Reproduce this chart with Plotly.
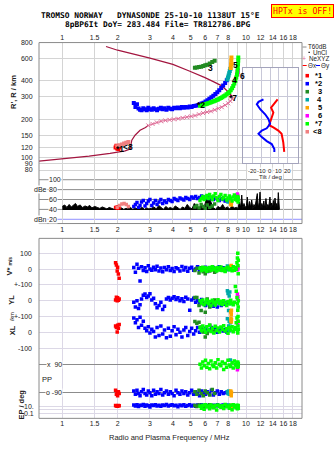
import numpy as np
import plotly.graph_objects as go

# ---------------------------------------------------------------- data
# Frequency ticks (MHz)
freq_ticks = [1, 1.5, 2, 3, 4, 5, 6, 7, 8, 9, 10, 12, 14, 16, 18]
freq_text_outer = ['1', '1.5', '2', '3', '4', '5', '6', '7', '8', '', '10', '12', '14', '16', '18']
freq_text_mid = ['1', '1.5', '2', '3', '4', '5', '6', '7', '8', '9', '10', '12', '14', '16', '18']
height_ticks = [80, 90, 100, 120, 150, 200, 300, 400, 600, 800]

# Electron density profile: plasma frequency (MHz) vs true height (km)
prof_low_f = [0.72, 1.00, 1.40, 1.82, 2.00, 2.20, 2.34, 2.36, 2.39, 2.49, 2.65, 2.82, 2.94]
prof_low_h = [93.5, 97.7, 103, 108, 110, 113, 117, 126, 137, 150, 164, 172, 179]
ne_f = [2.94, 3.10, 3.27, 3.45, 3.64, 3.84, 4.05, 4.28, 4.52, 4.77, 5.03, 5.28,
        5.55, 5.84, 6.14, 6.45, 6.76, 7.07, 7.38, 7.70, 8.00, 8.22, 8.43]
ne_h = [179, 184, 189, 193, 196, 198, 200, 202, 205, 208, 211, 214,
        219, 224, 228, 231, 237, 243, 249, 258, 267, 278, 289]
prof_top_f = [8.43, 8.36, 7.88, 7.38, 6.64, 5.98, 4.91, 4.00, 3.00, 2.00, 1.73]
prof_top_h = [289, 306, 335, 366, 395, 425, 479, 540, 604, 697, 745]

# Echo class 1 (red)
f1 = [1.95, 1.97, 1.99, 2.00, 2.02, 2.04]
h1 = [120, 124, 118, 122, 117, 121]
amp1 = [44, 43, 45, 42, 44, 43]
v1 = [40, 25, -12, 12, -31, -58]
yl1 = [5, 22, 0, 18, 3, 10]
xl1 = [40, 30, 2, 44, 25, 50]
pp1 = [-75, -100, -90, -110, -85, -95]
ep1 = [15, 12, 14, 10, 16, 13]

# Echo class 2 (blue)
f2 = [2.45, 2.50, 2.55, 2.60, 2.65, 2.70, 2.76, 2.82, 2.88, 2.94,
      3.00, 3.07, 3.14, 3.21, 3.28, 3.36, 3.44, 3.52, 3.60, 3.69,
      3.78, 3.87, 3.96, 4.06, 4.16, 4.26, 4.37, 4.48, 4.59, 4.70,
      4.82, 4.94, 5.06, 5.19, 5.32, 5.45, 5.59, 5.73, 5.87, 6.02,
      6.17, 6.32, 6.48, 6.64, 6.81, 6.98, 7.15, 7.33, 7.51, 7.70,
      7.86]
h2 = [268, 250, 262, 243, 238, 236, 244, 240, 236, 246,
      240, 238, 244, 240, 236, 242, 246, 240, 244, 238,
      246, 242, 240, 246, 244, 248, 244, 250, 246, 250,
      248, 252, 250, 254, 256, 258, 262, 266, 270, 276,
      282, 290, 298, 306, 316, 326, 338, 352, 368, 386,
      405]
amp2 = [46, 50, 54, 44, 48, 55, 58, 47, 52, 57,
        60, 48, 53, 58, 50, 55, 60, 52, 57, 54,
        60, 58, 56, 62, 60, 58, 63, 61, 59, 64,
        62, 60, 65, 63, 66, 62, 64, 67, 65, 63,
        66, 62, 64, 60, 63, 61, 58, 62, 60, 57,
        59]
v2 = [10, -20, 30, 5, -75, 15, -10, 8, -15, 20,
      0, -8, 12, -5, 18, -12, 6, -18, 10, -4,
      14, -10, 4, -16, 8, 2, -12, 16, -6, 10,
      -14, 5, 12, -8, 0, 15, -10, 8, -5, 12,
      -15, 6, -2, 10, -12, 4, 14, -6, 8, -10,
      2]
yl2 = [-10, -40, 0, -50, -25, 10, 35, 42, 20, 30,
       44, 5, 15, -20, -45, -30, -10, -55, -35, 10,
       20, 5, 15, 25, 8, 18, 0, 12, -5, 22,
       10, -60, 5, 15, -10, 0, -20, 8, -15, -30,
       -5, -25, -10, -35, -20, -40, -15, -30, -8, -22,
       -12]
xl2 = [90, 60, 80, 30, 95, 45, 70, 25, 10, 35,
       -5, 20, 5, -30, 30, -20, 40, -10, 15, -35,
       25, -25, 10, 35, -15, 20, 0, -30, 15, 30,
       -20, 5, 25, -10, 10, 30, 0, 20, 5, 25,
       10, 15, 30, 5, 20, 0, 12, 25, 8, 18,
       2]
pp2 = [-80, -100, -75, -95, -110, -85, -70, -95, -105, -80,
       -90, -110, -75, -100, -85, -95, -70, -105, -90, -80,
       -100, -85, -95, -110, -75, -90, -100, -80, -95, -85,
       -105, -90, -75, -100, -85, -95, -110, -80, -90, -100,
       -85, -95, -75, -105, -90, -80, -100, -85, -95, -90,
       -88]
ep2 = [20, 12, 25, 8, 18, 15, 30, 10, 22, 14,
       6, 20, 16, 25, 12, 18, 9, 22, 15, 28,
       11, 17, 24, 13, 19, 7, 21, 14, 26, 10,
       16, 23, 12, 18, 9, 20, 15, 25, 11, 17,
       13, 22, 8, 19, 14, 24, 10, 16, 21, 12,
       18]

# Echo class 3 (dark green)
f3 = [5.27, 5.40, 5.55, 5.70, 5.85, 6.00, 6.15, 6.35, 6.55, 6.75]
h3 = [508, 510, 514, 518, 524, 530, 536, 548, 562, 575]
amp3 = [45, 48, 43, 50, 46, 42, 49, 44, 47, 51]
v3 = [-10, 5, -25, 8, -18, -30, 2, -12, 6, -20]
yl3 = [20, 20, -31, -62, -21, -73, 10, -40, -15, 5]
xl3 = [69, 58, 64, 33, 2, -29, -8, 45, 20, 10]
pp3 = [-85, -100, -75, -95, -110, -80, -90, -105, -70, -95]
ep3 = [15, 8, 20, 12, 5, 18, 10, 25, 7, 14]

# Echo class 4 (teal)
f4 = [7.92, 7.98, 8.04, 8.10, 8.16, 8.22]
h4 = [410, 425, 442, 460, 478, 496]
amp4 = [60, 55, 62, 58, 64, 57]
v4 = [19, 10, -5, 15, 8, 0]
yl4 = [62, 46, -62, 30, 55, -20]
xl4 = [85, 20, 40, 70, 10, 60]
pp4 = [-85, -95, -80, -100, -90, 122]
ep4 = [12, 8, 20, 15, 10, 6]

# Echo class 5 (orange)
f5 = [8.26, 8.29, 8.31, 8.33]
h5 = [505, 540, 575, 610]
amp5 = [51, 55, 49, 53]
v5 = [18, 10, 22, 5]
yl5 = [-70, -75, -88, -60]
xl5 = [75, 90, 65, 80]
pp5 = [-80, -95, -110, -88]
ep5 = [14, 9, 18, 11]

# Echo class 6 (magenta)
f6 = [8.98, 9.01, 9.03]
h6 = [450, 468, 485]
amp6 = [71, 68, 66]
v6 = [12, -5, 8]
yl6 = [42, 10, 25]
xl6 = [64, 55, 70]
pp6 = [58, 70, 90]
ep6 = [5, 8, 12]

# Echo class 7 (bright green)
f7 = [5.62, 5.72, 5.82, 5.92, 6.02, 6.12, 6.23, 6.34, 6.45, 6.56,
      6.68, 6.80, 6.92, 7.04, 7.17, 7.30, 7.43, 7.56, 7.70, 7.84,
      7.98, 8.12, 8.26, 8.40, 8.52, 8.64, 8.75, 8.85, 8.93, 8.98,
      9.02, 9.05, 9.07, 9.08]
h7 = [255, 258, 260, 262, 263, 265, 267, 270, 272, 275,
      277, 280, 283, 286, 290, 294, 298, 303, 308, 314,
      320, 328, 338, 350, 365, 382, 400, 425, 450, 475,
      505, 540, 575, 610]
amp7 = [58, 62, 66, 60, 64, 68, 62, 70, 65, 60,
        67, 72, 63, 58, 66, 70, 61, 64, 68, 59,
        63, 67, 62, 57, 65, 69, 60, 64, 58, 62,
        66, 55, 60, 63]
v7 = [5, -10, 12, -5, 8, -14, 3, 10, -8, 15,
      -3, 6, -12, 9, -6, 13, -9, 4, -15, 7,
      11, -4, 2, -11, 14, -7, 9, -2, 40, 70,
      100, 20, -30, 55]
yl7 = [0, -15, 5, -25, -10, 4, -20, -5, -30, 2,
       -12, -28, -8, 6, -18, -3, -24, 0, -14, -30,
       -6, -20, 3, -16, -26, -10, 90, 60, 20, -20,
       -60, -100, -40, 0]
xl7 = [30, 10, 40, 20, 0, 35, 15, 44, 5, 25,
       -5, 38, 12, 28, 2, 33, 18, 42, 8, 22,
       -6, 30, 14, 36, 4, 20, 30, 60, 90, 10,
       -5, 40, 70, 20]
pp7 = [95, 70, 110, 85, 120, 75, 100, 65, 115, 90,
       80, 105, 70, 125, 95, 85, 110, 60, 100, 75,
       120, 90, 80, 105, 70, 115, 95, 85, 100, 75,
       110, 90, 80, 100]
ep7 = [10, 3, 18, 1.5, 25, 6, 12, 2, 20, 8,
       4, 15, 1, 22, 9, 5, 14, 2.5, 28, 7,
       11, 3, 17, 1.2, 24, 6, 13, 4, 19, 2,
       10, 5, 16, 3]

# Echo class 8 (light red)
f8 = [1.99, 2.05, 2.11, 2.17, 2.23, 2.29]
h8 = [123, 125, 127, 129, 131, 133]
amp8 = [44, 48, 51, 52, 50, 46]

# Unclassified echo amplitude (dB) vs frequency
amp_f = [1.00, 1.03, 1.06, 1.09, 1.12, 1.15, 1.18, 1.21, 1.25, 1.29,
         1.33, 1.37, 1.41, 1.45, 1.50, 1.55, 1.60, 1.65, 1.70, 1.75,
         1.80, 1.86, 1.92, 1.98, 2.04, 2.10, 2.16, 2.22, 2.28, 2.35,
         2.42, 2.49, 2.56, 2.64, 2.72, 2.80, 2.88, 2.96, 3.05, 3.15,
         3.25, 3.35, 3.45, 3.55, 3.66, 3.77, 3.88, 4.00, 4.12, 4.25,
         4.38, 4.51, 4.65, 4.79, 4.93, 5.08, 5.23, 5.39, 5.55, 5.72,
         5.89, 6.07, 6.25, 6.44, 6.63, 6.83, 7.03, 7.24, 7.46, 7.68,
         7.91, 8.15, 8.39, 8.64, 8.90, 9.05, 9.20, 9.35, 9.48, 9.60,
         9.75, 9.90, 10.05, 10.16, 10.30, 10.45, 10.60, 10.74, 10.90, 11.05,
         11.20, 11.35, 11.52, 11.65, 11.80, 11.92, 12.05, 12.20, 12.35, 12.50,
         12.65, 12.84, 13.00, 13.15, 13.30, 13.50, 13.65, 13.80, 13.95, 14.10,
         14.25, 14.38, 14.55, 14.70, 14.85, 14.99, 15.10, 15.20]
amp_db = [46, 49, 44, 50, 45, 48, 52, 46, 49, 44,
          47, 45, 48, 43, 46, 44, 42, 45, 43, 41,
          44, 42, 40, 43, 41, 43, 40, 42, 41, 44,
          40, 43, 41, 42, 44, 40, 43, 41, 42, 45,
          41, 48, 43, 40, 46, 42, 44, 41, 47, 43,
          40, 45, 42, 50, 44, 41, 52, 46, 43, 49,
          41, 60, 68, 55, 44, 40, 46, 43, 50, 42,
          45, 41, 47, 43, 44, 42, 55, 44, 69, 41,
          52, 43, 48, 65, 42, 56, 44, 59, 41, 50,
          45, 58, 72, 43, 54, 75, 42, 52, 44, 57,
          41, 62, 43, 50, 45, 65, 42, 53, 44, 58,
          42, 63, 45, 52, 41, 74, 44, 40]
AMP_FLOOR = 39

# Inset: echo-location tilts (deg) vs height (km)
tilt_x_h = [287, 262, 247, 226, 207, 189, 180, 173, 163, 154, 132, 111]
tilt_x = [8.5, 3.7, 1.1, 3.7, 1.8, 0.0, -1.1, 3.7, 9.3, 13.0, 14.9, 16.0]
tilt_y_h = [287, 274, 262, 240, 219, 201, 184, 170, 163, 154, 145, 135, 128, 117, 111]
tilt_y = [-7.5, -13.1, -15.0, -11.2, -5.6, -1.9, 0.0, -3.8, -9.4, -13.1, -9.4, -3.8, 1.8, 4.8, 4.8]

# ---------------------------------------------------------------- layout helpers
W, H = 335, 451


def px(x):
    return x / W


def py(y):
    return 1 - y / H


X0, X1 = 39, 302                      # plot frame, pixels
F_RANGE = [-0.1268, 1.3048]           # log10 MHz across the frame
H_TOP = np.log10(800)
H_BOT = H_TOP - (170 - 39) / 128.9

RED, BLUE, DKGREEN, TEAL = '#ff0000', '#0000ff', '#228b22', '#00a8a8'
ORANGE, MAGENTA, GREEN, PINK = '#ffa500', '#ff00ff', '#00ff00', '#f08080'
MAROON, NEPINK = '#a3153f', '#e0709a'
GRID1, GRID3 = '#d4d4d4', '#dcd8e6'
FONT = 'Liberation Sans'

classes = [
    dict(c=RED, f=f1, h=h1, a=amp1, v=v1, yl=yl1, xl=xl1, pp=pp1, ep=ep1),
    dict(c=BLUE, f=f2, h=h2, a=amp2, v=v2, yl=yl2, xl=xl2, pp=pp2, ep=ep2),
    dict(c=DKGREEN, f=f3, h=h3, a=amp3, v=v3, yl=yl3, xl=xl3, pp=pp3, ep=ep3),
    dict(c=TEAL, f=f4, h=h4, a=amp4, v=v4, yl=yl4, xl=xl4, pp=pp4, ep=ep4),
    dict(c=ORANGE, f=f5, h=h5, a=amp5, v=v5, yl=yl5, xl=xl5, pp=pp5, ep=ep5),
    dict(c=MAGENTA, f=f6, h=h6, a=amp6, v=v6, yl=yl6, xl=xl6, pp=pp6, ep=ep6),
    dict(c=GREEN, f=f7, h=h7, a=amp7, v=v7, yl=yl7, xl=xl7, pp=pp7, ep=ep7),
    dict(c=PINK, f=f8, h=h8, a=amp8),
]

fig = go.Figure()


def pts(x, y, xa, ya, color, size=3.0):
    fig.add_trace(go.Scatter(x=x, y=y, xaxis=xa, yaxis=ya, mode='markers',
                             marker=dict(symbol='square', size=size, color=color,
                                         line=dict(width=0)),
                             hoverinfo='skip'))


# ---- virtual / true heights
fig.add_trace(go.Scatter(x=prof_low_f, y=prof_low_h, xaxis='x', yaxis='y', mode='lines',
                         line=dict(color=MAROON, width=1.2), hoverinfo='skip'))
fig.add_trace(go.Scatter(x=prof_top_f, y=prof_top_h, xaxis='x', yaxis='y', mode='lines',
                         line=dict(color=MAROON, width=1.2), hoverinfo='skip'))
fig.add_trace(go.Scatter(x=ne_f, y=ne_h, xaxis='x', yaxis='y', mode='lines+markers',
                         line=dict(color=NEPINK, width=1),
                         marker=dict(symbol='x-thin', size=4, color=NEPINK,
                                     line=dict(width=1, color=NEPINK)),
                         hoverinfo='skip'))
for k in classes:
    pts(k['f'], k['h'], 'x', 'y', k['c'], 4.0)

# ---- amplitudes
fig.add_trace(go.Scatter(x=amp_f, y=[AMP_FLOOR] * len(amp_f), xaxis='x2', yaxis='y2',
                         mode='lines', line=dict(width=0, color='black'), hoverinfo='skip'))
fig.add_trace(go.Scatter(x=amp_f, y=amp_db, xaxis='x2', yaxis='y2', mode='lines',
                         fill='tonexty', fillcolor='black',
                         line=dict(width=1, color='black'), hoverinfo='skip'))
for k in classes:
    pts(k['f'], k['a'], 'x2', 'y2', k['c'], 3.4)

# ---- lower panel: velocity, location, polarization, error
fig.add_trace(go.Scatter(x=[], y=[], xaxis='x3', yaxis='y3', hoverinfo='skip'))
for key, ax in [('v', '4'), ('yl', '5'), ('xl', '6'), ('pp', '7'), ('ep', '8')]:
    for k in classes:
        if key in k:
            pts(k['f'], k[key], 'x' + ax, 'y' + ax, k['c'], 3.5)

# ---- tilt inset
fig.add_trace(go.Scatter(x=tilt_x, y=tilt_x_h, xaxis='x9', yaxis='y9', mode='lines',
                         line=dict(color=RED, width=2), hoverinfo='skip'))
fig.add_trace(go.Scatter(x=tilt_y, y=tilt_y_h, xaxis='x9', yaxis='y9', mode='lines',
                         line=dict(color=BLUE, width=2), hoverinfo='skip'))

# ---------------------------------------------------------------- axes
xdom = [px(X0), px(X1)]
tickfont = dict(family=FONT, size=7, color='#222')
hidden_x = dict(domain=xdom, type='log', range=F_RANGE, visible=False)

layout = dict(
    width=W, height=H, margin=dict(l=0, r=0, t=0, b=0),
    paper_bgcolor='white', plot_bgcolor='rgba(0,0,0,0)', showlegend=False,
    font=dict(family=FONT, size=7, color='#222'),
    xaxis=dict(domain=xdom, type='log', range=F_RANGE, anchor='y', side='top',
               tickvals=freq_ticks, ticktext=freq_text_outer, tickfont=tickfont,
               tickangle=0, showgrid=True, gridcolor=GRID1, zeroline=False, ticks=''),
    yaxis=dict(domain=[py(170), py(39)], type='log', range=[H_BOT, H_TOP], anchor='x',
               tickvals=height_ticks, ticktext=[str(t) for t in height_ticks],
               tickfont=tickfont, showgrid=True, gridcolor=GRID1, zeroline=False,
               ticks='outside', ticklen=4, tickcolor='rgba(0,0,0,0)'),
    xaxis2=dict(domain=xdom, type='log', range=F_RANGE, anchor='y2', side='bottom',
                tickvals=freq_ticks, ticktext=freq_text_mid, tickfont=tickfont,
                tickangle=0, showgrid=True, gridcolor=GRID1, zeroline=False, ticks=''),
    yaxis2=dict(domain=[py(222), py(170)], range=[11.4, 115.4], anchor='x2',
                showgrid=False, showticklabels=False, zeroline=False),
    xaxis3=dict(domain=xdom, type='log', range=F_RANGE, anchor='y3', side='bottom',
                tickvals=freq_ticks, ticktext=freq_text_outer, tickfont=tickfont,
                tickangle=0, showgrid=True, gridcolor=GRID3, zeroline=False, ticks=''),
    yaxis3=dict(domain=[py(419), py(237)], range=[0, 1], anchor='x3', visible=False),
    yaxis4=dict(domain=[py(292), py(244)], range=[-150, 150], anchor='x4',
                tickvals=[100, 0, -100], showticklabels=False, showgrid=True,
                gridcolor=GRID3, zeroline=False),
    yaxis5=dict(domain=[py(324), py(276)], range=[-150, 150], anchor='x5',
                tickvals=[0, -100], showticklabels=False, showgrid=True,
                gridcolor=GRID3, zeroline=False),
    yaxis6=dict(domain=[py(356), py(308)], range=[-150, 150], anchor='x6',
                tickvals=[0, -100], showticklabels=False, showgrid=True,
                gridcolor=GRID3, zeroline=False),
    yaxis7=dict(domain=[py(400), py(358)], range=[-135, 135], anchor='x7',
                tickvals=[90, -90], showticklabels=False, showgrid=True,
                gridcolor='#8c8c8c', zeroline=False),
    yaxis8=dict(domain=[py(419), py(402)], type='log', range=[-2.237, 2.237], anchor='x8',
                tickvals=[10, 1, 0.1], showticklabels=False, showgrid=True,
                gridcolor=GRID3, zeroline=False),
    xaxis9=dict(domain=[px(242.7), px(297.5)], range=[-31, 31], anchor='y9',
                tickvals=[-20, -10, 0, 10, 20], showticklabels=False, showgrid=True,
                gridcolor='#c8c8d8', zeroline=False, showline=True, mirror=True,
                linecolor='#a4a4bc', linewidth=1),
    yaxis9=dict(domain=[py(161), py(65)], type='log', range=[H_TOP - (161 - 39) / 128.9,
                                                             H_TOP - (65 - 39) / 128.9],
                anchor='x9', tickvals=[100, 120, 150, 200, 300, 400], showticklabels=False,
                showgrid=True, gridcolor='#c8c8d8', zeroline=False, showline=True,
                mirror=True, linecolor='#a4a4bc', linewidth=1),
)
for n in range(4, 9):
    layout['xaxis%d' % n] = dict(hidden_x, anchor='y%d' % n)
fig.update_layout(**layout)

# ---------------------------------------------------------------- shapes
shapes = []
# white backing for the tilt inset (clipped to its own subplot)
shapes.append(dict(type='rect', xref='x9', yref='y9', x0=-100, x1=100, y0=1, y1=1e5,
                   fillcolor='white', line=dict(width=0), layer='below'))
# amplitude reference levels
for val, col in [(100, '#8c8c8c'), (80, '#8c8c8c'), (60, '#8c8c8c'), (40, '#8c8c8c'),
                 (20, '#9090ff')]:
    shapes.append(dict(type='line', xref='paper', yref='y2', x0=px(X0), x1=px(X1),
                       y0=val, y1=val, line=dict(color=col, width=1), layer='below'))
# frames
for top, bot in [(39, 222), (237, 419)]:
    shapes.append(dict(type='rect', xref='paper', yref='paper', x0=px(X0), x1=px(X1),
                       y0=py(bot), y1=py(top), line=dict(color='#8a8a8a', width=1),
                       layer='above'))
# legend glyphs
shapes.append(dict(type='line', xref='paper', yref='paper', x0=px(302.5), x1=px(306.5),
                   y0=py(43.5), y1=py(43.5), line=dict(color='#909090', width=1)))
shapes.append(dict(type='rect', xref='paper', yref='paper', x0=px(308.5), x1=px(309.8),
                   y0=py(49.6), y1=py(48.4), fillcolor='black', line=dict(width=0)))
shapes.append(dict(type='line', xref='paper', yref='paper', x0=px(302.7), x1=px(306.7),
                   y0=py(62.2), y1=py(62.2), line=dict(color=RED, width=1)))
shapes.append(dict(type='line', xref='paper', yref='paper', x0=px(316), x1=px(320),
                   y0=py(62.2), y1=py(62.2), line=dict(color=BLUE, width=1)))
legend_cols = [RED, BLUE, DKGREEN, TEAL, ORANGE, MAGENTA, GREEN, PINK]
legend_lbls = ['*1', '*2', '3', '4', '5', '6', '*7', '<8']
for i, col in enumerate(legend_cols):
    yc = 72.5 + 8.1 * i
    shapes.append(dict(type='rect', xref='paper', yref='paper', x0=px(305.5), x1=px(309),
                       y0=py(yc + 1.8), y1=py(yc - 1.8), fillcolor=col,
                       line=dict(width=0)))
fig.update_layout(shapes=shapes)

# ---------------------------------------------------------------- text
ann = []


def text(x, y, s, size=7, xref='paper', yref='paper', xanchor='center', bold=False,
         color='#222', angle=0, bg=None, family=FONT):
    d = dict(x=x, y=y, xref=xref, yref=yref, text=('<b>%s</b>' % s) if bold else s,
             showarrow=False, xanchor=xanchor, yanchor='middle', textangle=angle,
             font=dict(family=family, size=size, color=color), borderpad=0)
    if bg:
        d['bgcolor'] = bg
    ann.append(d)


MONO = 'DejaVu Sans Mono'
text(px(150), py(11.6), 'TROMSO NORWAY   DYNASONDE 25-10-10 1138UT 15°E', 7.9,
     bold=True, color='black', family=MONO)
text(px(157.5), py(20.8), '8pBP6It DoY= 283.484 File= TR812786.BPG', 7.9,
     bold=True, color='black', family=MONO)
ann.append(dict(x=px(302), y=py(7.5), xref='paper', yref='paper', text='HPTx is OFF!',
                showarrow=False, xanchor='center', yanchor='middle',
                font=dict(family=MONO, size=8.2, color='#ff0000'),
                bgcolor='#ffff00', bordercolor='#ff0000', borderwidth=1, borderpad=1))

# axis titles
text(px(13.5), py(89.5), "R', R / km", 7.5, bold=True, angle=-90)
text(px(9.5), py(265), "V* <span style='font-size:5px'>m/s</span>", 7.5, bold=True, angle=-90)
text(px(12), py(299), 'YL', 7.5, bold=True, angle=-90)
text(px(12.5), py(316), '/km', 5.5, angle=-90)
text(px(12), py(330), 'XL', 7.5, bold=True, angle=-90)
text(px(22), py(405), 'EP / deg', 7.5, bold=True, angle=-90)
text(px(47), py(379.5), 'PP', 7.5)
text(px(169.5), py(438.7), 'Radio and Plasma Frequency / MHz', 7.5)

# amplitude scale
for val in [100, 80, 60, 40, 20]:
    text(px(47.5), val, str(val), 7, yref='y2', xanchor='left', bg='white')
text(px(47.5), 80, 'dBe', 7, yref='y2', xanchor='right', bg='white')
text(px(47.5), 20, 'dBn', 7, yref='y2', xanchor='right', bg='white')

# lower panel scales
for ax, val, s in [('y4', 100, '100'), ('y4', 0, '0'), ('y4', -100, '+-100'),
                   ('y5', 0, '0'), ('y5', -100, '+-100'), ('y6', 0, '0'),
                   ('y6', -100, '-100')]:
    text(px(32.5), val, s, 7, yref=ax, xanchor='right')
text(px(46), 90, 'x  90', 7, yref='y7', xanchor='left', bg='white')
text(px(45), -90, 'o -90', 7, yref='y7', xanchor='left', bg='white')
text(px(34.5), np.log10(10), '10.', 7, yref='y8', xanchor='right')
text(px(35), np.log10(0.1), '0.1', 7, yref='y8', xanchor='right')

# inset scale
for val in [-20, -10, 0, 10, 20]:
    text(val, py(169), str(val), 6, xref='x9', bg='white')
text(0, py(174.5), 'Tilt / deg', 6, xref='x9', bg='white')

# echo class labels on the height panel
for s, f, h in [('*1', 2.06, 118), ('<8', 2.29, 122), ('*2', 5.67, 258), ('3', 6.37, 505),
                ('4', 8.68, 406), ('5', 8.80, 531), ('6', 9.61, 438), ('*7', 8.53, 293)]:
    text(np.log10(f), np.log10(h), s, 8.5, xref='x', yref='y', bold=True, color='black')

# legend text
text(px(307), py(43.3), 'T60dB', 6.3, xanchor='left')
text(px(311.5), py(49), 'UnCl', 6.3, xanchor='left')
text(px(304.3), py(54.9), '+', 7, color=NEPINK)
text(px(308.3), py(54.9), 'NeXYZ', 6.3, xanchor='left')
text(px(306.9), py(62.2), 'Θx', 6.3, xanchor='left')
text(px(320.2), py(62.2), 'Θy', 6.3, xanchor='left')
for i, s in enumerate(legend_lbls):
    text(px(322.5), py(72.5 + 8.1 * i), s, 7.5, xanchor='right', bold=True, color='black')

fig.update_layout(annotations=ann)
fig.write_html('out.html')
